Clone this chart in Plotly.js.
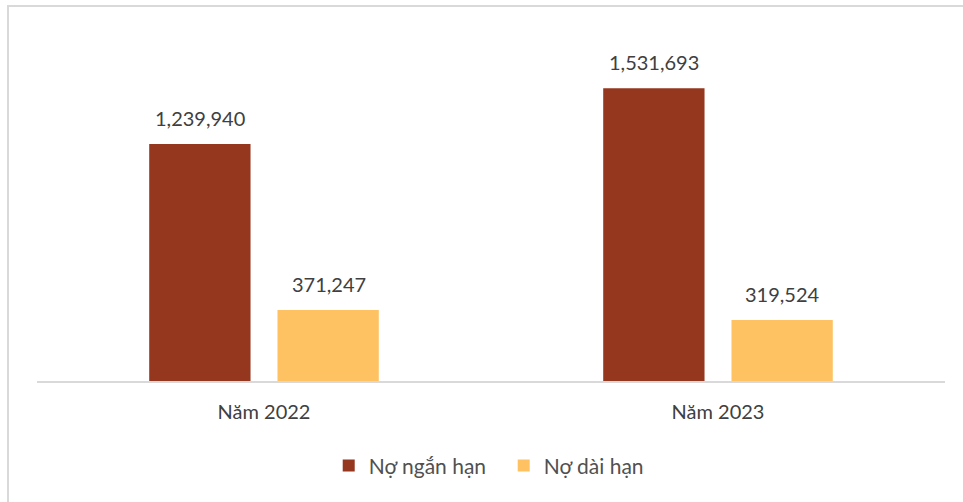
<!DOCTYPE html>
<html><head><meta charset="utf-8">
<script src="https://cdn.plot.ly/plotly-3.0.1.min.js"></script>
<style>
html,body{margin:0;padding:0;background:#fff;}
#frame{position:absolute;left:7px;top:5px;right:0;bottom:0;border-top:2px solid #d9d9d9;border-left:2px solid #d9d9d9;}
#chart{position:absolute;left:0;top:0;width:963px;height:502px;}
</style></head>
<body>
<div id="frame"></div>
<div id="chart"></div>
<script>
const categories = ["Năm 2022", "Năm 2023"];
const seriesNames = ["Nợ ngắn hạn", "Nợ dài hạn"];
const shortTerm = [1239940, 1531693];
const longTerm = [371247, 319524];
const colors = ["#95361E", "#FFC263"];
const fontFam = "Lato, 'Open Sans', sans-serif";
const txtColor = "#404040";
const fs = 20;

function fmt(v){ return v.toLocaleString('en-US'); }

const series = [shortTerm, longTerm];
const traces = series.map((vals, i) => ({
  type: 'bar',
  name: seriesNames[i],
  x: categories,
  y: vals,
  marker: {color: colors[i]},
  hoverinfo: 'none'
}));

const offsets = [-64.5, 64.5];
const annotations = [];
series.forEach((vals, i) => {
  vals.forEach((v, j) => {
    annotations.push({
      x: categories[j], y: v, xref: 'x', yref: 'y',
      text: fmt(v), showarrow: false,
      xshift: offsets[i], yshift: 26, yanchor: 'middle',
      font: {family: fontFam, size: fs, color: txtColor}
    });
  });
});

const layout = {
  width: 963, height: 502,
  paper_bgcolor: 'rgba(0,0,0,0)', plot_bgcolor: 'rgba(0,0,0,0)',
  margin: {l: 37, r: 18, t: 20, b: 121},
  barmode: 'group', bargap: 0.435, bargroupgap: 0.21,
  showlegend: true,
  legend: {orientation: 'h', x: 0.514, xanchor: 'center', y: -0.235, yanchor: 'middle',
    entrywidth: 130, entrywidthmode: 'pixels',
    font: {family: fontFam, size: 21, color: '#505050'}, traceorder: 'normal'},
  annotations: annotations,
  xaxis: {showline: true, linecolor: '#d9d9d9', linewidth: 2, ticks: '', ticklabelstandoff: 12,
    tickfont: {family: fontFam, size: fs, color: txtColor}, fixedrange: true},
  yaxis: {range: [0, 1888000], showgrid: false, zeroline: false, showticklabels: false, showline: false, fixedrange: true},
  font: {family: fontFam, color: txtColor}
};

Plotly.newPlot('chart', traces, layout, {displayModeBar: false, staticPlot: true});
</script>
</body></html>
